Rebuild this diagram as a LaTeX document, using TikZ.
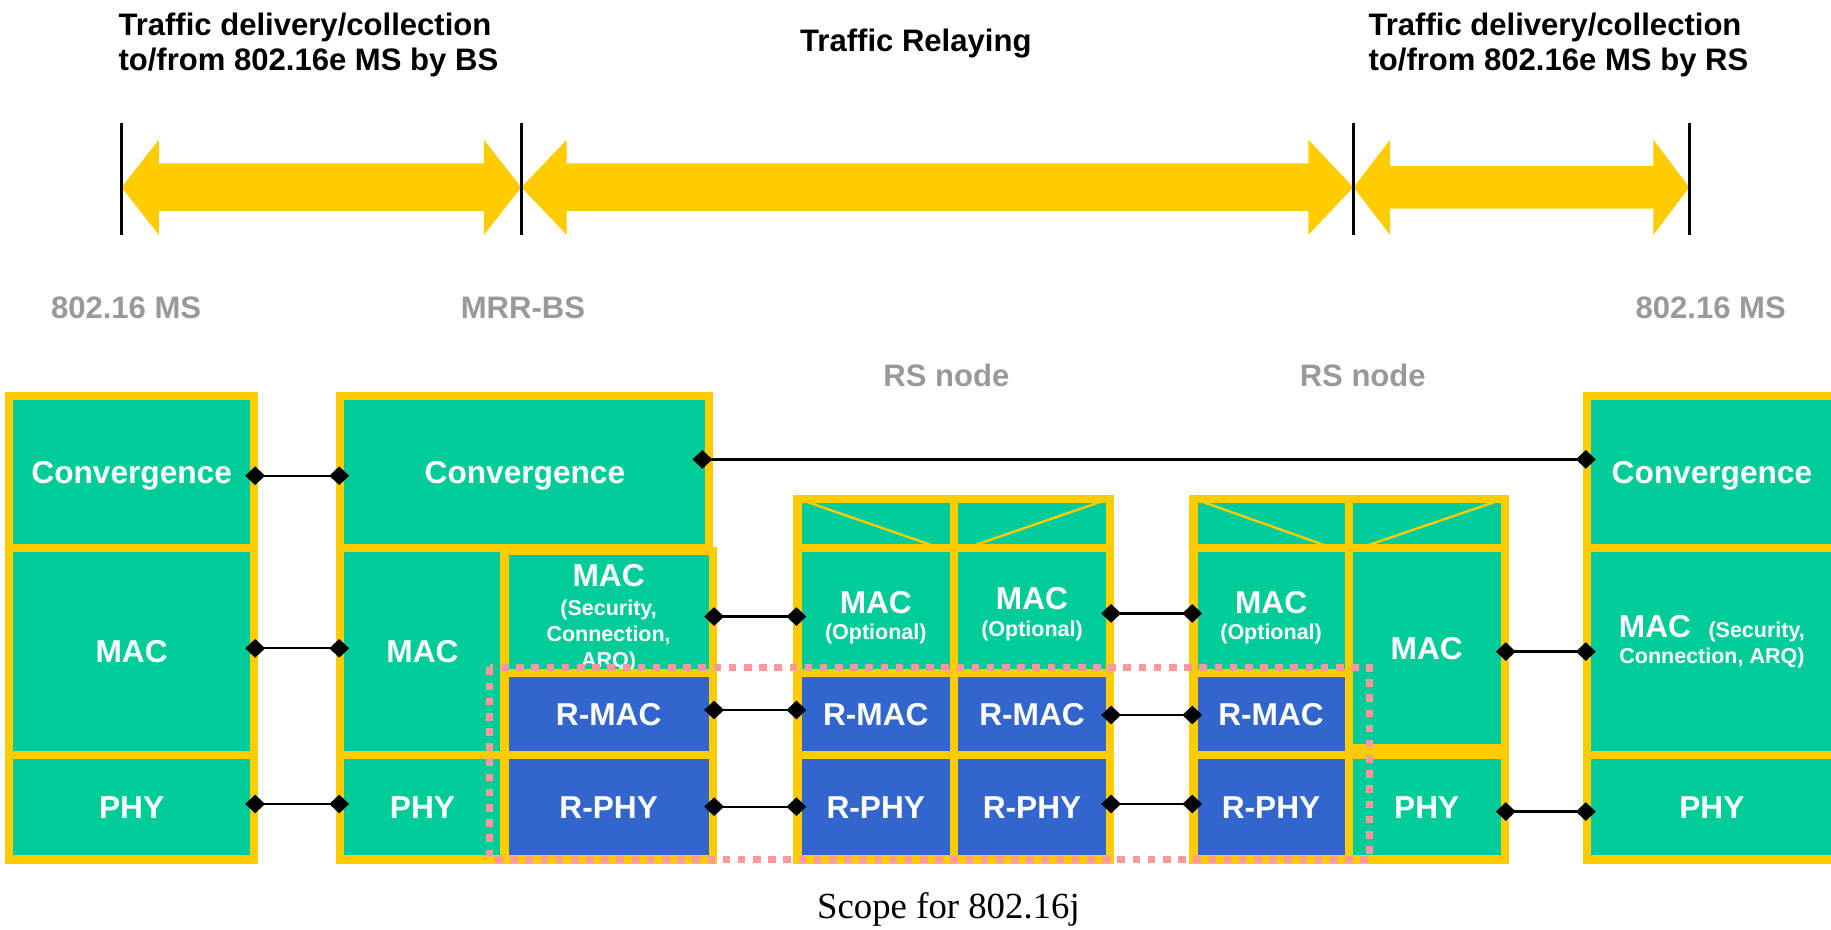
\documentclass[tikz,border=0pt]{standalone}
\usepackage{fontspec}
\setmainfont{Liberation Sans}
\newfontfamily\serifnm{Liberation Serif}
\usetikzlibrary{arrows.meta}
\definecolor{grn}{HTML}{00CC99}
\definecolor{ylw}{HTML}{FFCC00}
\definecolor{blu}{HTML}{3366CC}
\definecolor{pnk}{HTML}{FF9999}
\definecolor{gry}{HTML}{999999}
\newcommand\myBig{\fontsize{26.6}{30}\selectfont}
\newcommand\myCell{\fontsize{27.1}{30}\selectfont}
\newcommand\mySmall{\fontsize{18.4}{22}\selectfont}
% [style]{name}{x1}{y1}{x2}{y2}{text}
\newcommand\mycell[7][]{\node[cell,#1,minimum width={#5-#3},minimum height={#6-#4}] (#2) at ({(#3+#5)/2},{(#4+#6)/2}) {#7};}
\newcommand\dblarrow[5]{\fill[ylw] (#1,160.4) -- ({#1+#3},119.7) -- ({#1+#3},{160.4-#5}) -- ({#2-#4},{160.4-#5}) -- ({#2-#4},119.7) -- (#2,160.4) -- ({#2-#4},201.1) -- ({#2-#4},{160.4+#5}) -- ({#1+#3},{160.4+#5}) -- ({#1+#3},201.1) -- cycle;}
\begin{document}
\begin{tikzpicture}[x=1pt,y=-1pt,
  cell/.style={draw=ylw, fill=grn, line width=7pt, inner sep=0pt, outer sep=0pt, text=white, font=\bfseries\myCell, text height=19.4pt, text depth=0pt, align=center},
  bcell/.style={fill=blu},
  wl/.style={text=white, font=\bfseries\myCell, anchor=base, inner sep=0pt},
  ws/.style={text=white, font=\bfseries\mySmall, anchor=base, inner sep=0pt},
  ttl/.style={font=\bfseries\myBig, anchor=base west, inner sep=0pt},
  gl/.style={text=gry, font=\bfseries\myBig, anchor=base, inner sep=0pt},
  dtip/.tip={Diamond[length=17pt,width=16pt]},
  conn/.style={draw=black, line width=1.9pt, dtip-dtip, shorten <=-7.5pt, shorten >=-7.5pt},
  diag/.style={draw=ylw, line width=2pt},
  tick/.style={draw=black, line width=2.2pt},
  scopebox/.style={draw=pnk, line width=5.7pt, dash pattern=on 6.5pt off 6.5pt},
]
\useasboundingbox (0,0) rectangle (1568,796);
\clip (0,0) rectangle (1568,796);

% top titles
\node[ttl] (t1a) at (101.3,30.5) {Traffic delivery/collection};
\node[ttl] (t1b) at (101.3,60) {to/from 802.16e MS by BS};
\node[font=\bfseries\myBig, anchor=base, inner sep=0pt] (t2) at (784.3,44.3) {Traffic Relaying};
\node[ttl] (t3a) at (1171.8,30.5) {Traffic delivery/collection};
\node[ttl] (t3b) at (1171.8,60) {to/from 802.16e MS by RS};

% top double arrows
\dblarrow{104}{446.4}{32}{32}{20.4}
\dblarrow{446.4}{1159}{38.9}{38.6}{20.4}
\dblarrow{1159}{1446.7}{31.4}{30.8}{18.2}
\draw[tick] (104,105.6) -- (104,201.3);
\draw[tick] (446.4,105.6) -- (446.4,201.3);
\draw[tick] (1159,105.6) -- (1159,201.3);
\draw[tick] (1446.7,105.6) -- (1446.7,201.3);

% gray labels
\node[gl] (ms1) at (108,272.6) {802.16 MS};
\node[gl] (mrr) at (447.8,272.6) {MRR-BS};
\node[gl] (ms2) at (1465,272.6) {802.16 MS};
\node[gl] (rsn1) at (810.5,331) {RS node};
\node[gl] (rsn2) at (1167,331) {RS node};

% stack 1 (802.16 MS)
\mycell{s1c}{8}{339}{217.5}{469}{Convergence}
\mycell{s1m}{8}{469}{217.5}{646.5}{MAC}
\mycell{s1p}{8}{646.5}{217.5}{736}{PHY}

% stack 2 (MRR-BS)
\mycell{s2c}{291.5}{339}{607.5}{469}{Convergence}
\mycell{s2m}{291.5}{469}{432}{646.5}{MAC}
\mycell{s2p}{291.5}{646.5}{432}{736}{PHY}
\mycell{s2ms}{432}{471.5}{610.5}{576}{}
\node[wl] (s2msT) at (521.2,502.4) {MAC};
\node[ws] (s2msA) at (521.2,526.7) {(Security,};
\node[ws] (s2msB) at (521.2,549.5) {Connection,};
\node[ws] (s2msC) at (521.2,571.5) {ARQ)};
\mycell[bcell]{s2rm}{432}{576}{610.5}{646.5}{R-MAC}
\mycell[bcell]{s2rp}{432}{646.5}{610.5}{736}{R-PHY}

% RS node 1
\mycell{r1x1}{683}{427}{817}{469}{}
\mycell{r1x2}{817}{427}{950.5}{469}{}
\mycell{r1m1}{683}{469}{817}{576}{}
\mycell{r1m2}{817}{469}{950.5}{576}{}
\node[wl] (r1m1T) at (750,525.3) {MAC};
\node[ws] (r1m1O) at (750,548) {(Optional)};
\node[wl] (r1m2T) at (883.75,521.8) {MAC};
\node[ws] (r1m2O) at (883.75,545) {(Optional)};
\mycell[bcell]{r1rm1}{683}{576}{817}{646.5}{R-MAC}
\mycell[bcell]{r1rm2}{817}{576}{950.5}{646.5}{R-MAC}
\mycell[bcell]{r1rp1}{683}{646.5}{817}{736}{R-PHY}
\mycell[bcell]{r1rp2}{817}{646.5}{950.5}{736}{R-PHY}
\draw[diag] (r1x1.north west) -- ([xshift=-13pt]r1x1.south east);
\draw[diag] ([xshift=11.5pt]r1x2.south west) -- (r1x2.north east);

% RS node 2
\mycell{r2x1}{1022}{427}{1155}{469}{}
\mycell{r2x2}{1155}{427}{1288.5}{469}{}
\mycell{r2m1}{1022}{469}{1155}{576}{}
\node[wl] (r2m1T) at (1088.5,525.3) {MAC};
\node[ws] (r2m1O) at (1088.5,548) {(Optional)};
\mycell[bcell]{r2rm}{1022}{576}{1155}{646.5}{R-MAC}
\mycell[bcell]{r2rp}{1022}{646.5}{1155}{736}{R-PHY}
\mycell{r2m2}{1155}{469}{1288.5}{641}{MAC}
\mycell{r2p}{1155}{646.5}{1288.5}{736}{PHY}
\draw[diag] (r2x1.north west) -- ([xshift=-14.6pt]r2x1.south east);
\draw[diag] ([xshift=10.3pt]r2x2.south west) -- (r2x2.north east);

% right stack (802.16 MS)
\mycell{rc}{1359}{339}{1573}{469}{Convergence}
\mycell{rm}{1359}{469}{1573}{646.5}{}
\mycell{rp}{1359}{646.5}{1573}{736}{PHY}
\node[anchor=base, text=white, font=\bfseries, inner sep=0pt] (rmT) at (1466,545.8) {{\myCell MAC}\hspace{15pt}{\mySmall (Security,}};
\node[ws] (rmB) at (1466,568.5) {Connection, ARQ)};

% scope of 802.16j
\draw[scopebox] (419.4,571.5) rectangle (1173,736);
\node[font=\serifnm\fontsize{31.5}{36}\selectfont, anchor=base, inner sep=0pt] (scope) at (812.2,786.5) {Scope for 802.16j};

% connectors
\coordinate (c2e) at ([xshift=-7pt]s2c.east);
\draw[conn] (s1c.east |- 0,407.4) -- (s2c.west |- 0,407.4);
\draw[conn] (s1m.east |- 0,555.2) -- (s2m.west |- 0,555.2);
\draw[conn] (s1p.east |- 0,688.5) -- (s2p.west |- 0,688.5);
\draw[conn] (c2e |- 0,393.4) -- (rc.west |- 0,393.4);
\draw[conn] (s2ms.east |- 0,528) -- (r1m1.west |- 0,528);
\draw[conn] (s2rm.east |- 0,608) -- (r1rm1.west |- 0,608);
\draw[conn] (s2rp.east |- 0,690.8) -- (r1rp1.west |- 0,690.8);
\draw[conn] (r1m2.east |- 0,525.3) -- (r2m1.west |- 0,525.3);
\draw[conn] (r1rm2.east |- 0,612.3) -- (r2rm.west |- 0,612.3);
\draw[conn] (r1rp2.east |- 0,688.5) -- (r2rp.west |- 0,688.5);
\draw[conn] (r2m2.east |- 0,558) -- (rm.west |- 0,558);
\draw[conn] (r2p.east |- 0,695) -- (rp.west |- 0,695);
\end{tikzpicture}
\end{document}
